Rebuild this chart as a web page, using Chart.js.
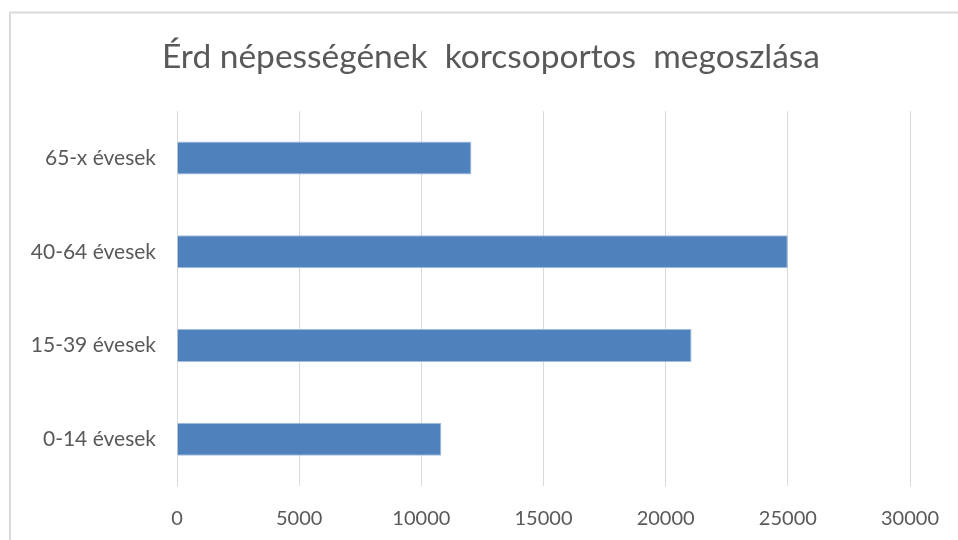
<!DOCTYPE html>
<html>
<head>
<meta charset="utf-8">
<script src="https://cdn.jsdelivr.net/npm/chart.js@4"></script>
<style>
html,body{margin:0;padding:0;background:#fff;overflow:hidden;}
#wrap{width:958px;height:540px;position:relative;}
</style>
</head>
<body>
<div id="wrap"><canvas id="c" width="958" height="540"></canvas></div>
<script>
const title = 'Érd népességének  korcsoportos  megoszlása';
const categories = ['0-14 évesek', '15-39 évesek', '40-64 évesek', '65-x évesek'];
const population = [10820, 21060, 25000, 12050];
const xTicks = [0, 5000, 10000, 15000, 20000, 25000, 30000];

const textColor = '#595959';
const gridColor = '#d9d9d9';

const framePlugin = {
  id: 'frame',
  beforeDraw(chart) {
    const ctx = chart.ctx;
    ctx.save();
    ctx.strokeStyle = '#d9d9d9';
    ctx.lineWidth = 2;
    ctx.beginPath();
    ctx.moveTo(10, 545);
    ctx.lineTo(10, 12.5);
    ctx.lineTo(965, 12.5);
    ctx.stroke();
    ctx.restore();
  }
};

new Chart(document.getElementById('c'), {
  type: 'bar',
  data: {
    labels: categories,
    datasets: [{
      data: population,
      backgroundColor: '#4f81bd',
      borderColor: '#a3bde0',
      borderWidth: 1,
      categoryPercentage: 1,
      barPercentage: 0.352
    }]
  },
  options: {
    indexAxis: 'y',
    responsive: false,
    animation: false,
    devicePixelRatio: 1,
    layout: { padding: { left: 24, right: 0, top: 0, bottom: 0 } },
    plugins: {
      legend: { display: false },
      tooltip: { enabled: false },
      title: {
        display: true,
        text: title,
        color: textColor,
        font: { family: 'Lato', size: 33.5, weight: 'normal' },
        padding: { top: 37, bottom: 34 }
      }
    },
    scales: {
      x: {
        type: 'linear',
        min: xTicks[0],
        max: xTicks[xTicks.length - 1],
        afterBuildTicks(scale) { scale.ticks = xTicks.map(v => ({ value: v })); },
        afterFit(scale) { scale.height = 54; scale.paddingLeft = 0; scale.paddingRight = 48; },
        grid: { color: gridColor, lineWidth: 1, drawTicks: false },
        border: { display: false },
        ticks: {
          color: textColor,
          font: { family: 'Lato', size: 20 },
          padding: 21,
          maxRotation: 0,
          callback: (v) => String(v)
        }
      },
      y: {
        reverse: true,
        afterFit(scale) { scale.width = 153; scale.paddingTop = 0; scale.paddingBottom = 0; },
        grid: { display: false, drawTicks: false },
        border: { display: false },
        ticks: {
          color: textColor,
          font: { family: 'Lato', size: 21 },
          padding: 21
        }
      }
    }
  },
  plugins: [framePlugin]
});
</script>
</body>
</html>
